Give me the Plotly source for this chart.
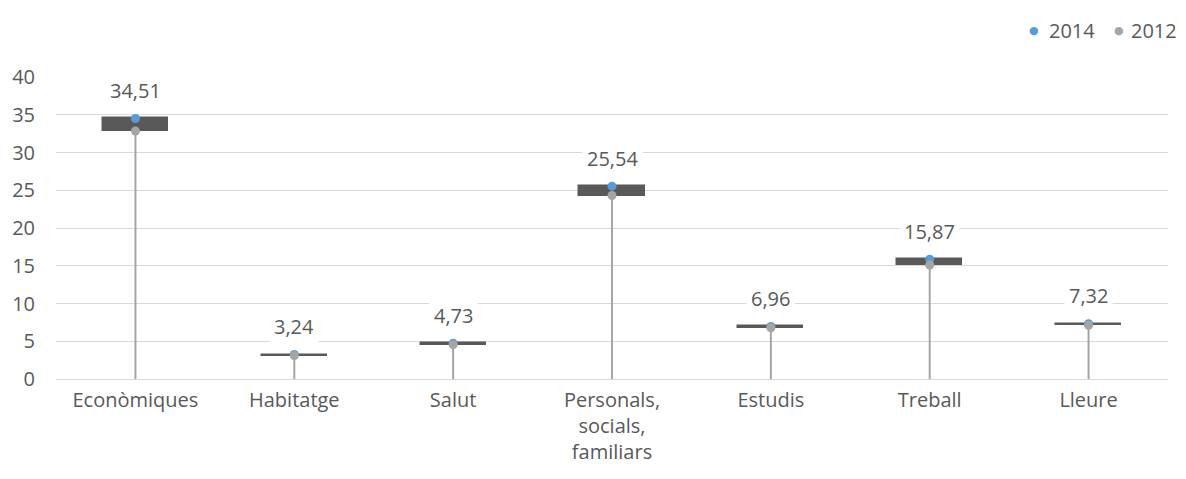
import plotly.graph_objects as go

categories = ["Econòmiques", "Habitatge", "Salut", "Personals,<br>socials,<br>familiars", "Estudis", "Treball", "Lleure"]
values_2014 = [34.51, 3.24, 4.73, 25.54, 6.96, 15.87, 7.32]
values_2012 = [32.85, 3.10, 4.55, 24.30, 6.78, 15.10, 7.12]
labels_2014 = ["34,51", "3,24", "4,73", "25,54", "6,96", "15,87", "7,32"]
series_names = ["2014", "2012"]
series_colors = ["#5B9BD5", "#A5A5A5"]
y_ticks = [0, 5, 10, 15, 20, 25, 30, 35, 40]

TXT = "#595959"
FONT = "Open Sans"
FS = 20

fig = go.Figure()

# drop lines
for c, v in zip(categories, values_2012):
    fig.add_trace(go.Scatter(x=[c, c], y=[0, v], mode="lines",
                             line=dict(color="#A5A5A5", width=2),
                             showlegend=False, hoverinfo="skip"))

# up/down bars
lo = [min(a, b) for a, b in zip(values_2014, values_2012)]
hi = [max(a, b) for a, b in zip(values_2014, values_2012)]
fig.add_trace(go.Bar(x=categories, y=[h - l for h, l in zip(hi, lo)], base=lo,
                     width=0.41, marker=dict(color="#595959", line=dict(color="#595959", width=1.5)),
                     showlegend=False, hoverinfo="skip"))

fig.add_trace(go.Scatter(x=categories, y=values_2014, mode="markers", name=series_names[0],
                         marker=dict(color=series_colors[0], size=9), showlegend=False))
fig.add_trace(go.Scatter(x=categories, y=values_2012, mode="markers", name=series_names[1],
                         marker=dict(color=series_colors[1], size=9), showlegend=False))

for c, v, t in zip(categories, values_2014, labels_2014):
    fig.add_annotation(x=c, y=v, text=t, showarrow=False, yshift=28,
                       bgcolor="white", borderpad=4,
                       font=dict(family=FONT, size=FS, color=TXT))

# legend (top right) drawn as text
legend_y = 1.1556
for name, col, xd, xt in zip(series_names, series_colors, [0.8795, 0.9559], [0.8912, 0.9649]):
    fig.add_annotation(x=xd, y=legend_y, xref="paper", yref="paper", text="●",
                       showarrow=False, xanchor="center", yanchor="middle",
                       font=dict(family="DejaVu Sans", size=11, color=col))
    fig.add_annotation(x=xt, y=legend_y, xref="paper", yref="paper", text=name,
                       showarrow=False, xanchor="left", yanchor="middle",
                       font=dict(family=FONT, size=FS, color=TXT))

fig.update_layout(
    width=1178, height=463,
    paper_bgcolor="white", plot_bgcolor="white",
    margin=dict(l=48, r=18, t=69, b=92, autoexpand=False),
    font=dict(family=FONT, size=FS, color=TXT),
    bargap=0,
    showlegend=False,
    xaxis=dict(showgrid=False, showline=False, ticks="", automargin=False,
               ticklabelstandoff=7, tickfont=dict(size=FS, color=TXT)),
    yaxis=dict(range=[0, 40], tickvals=y_ticks, showgrid=True, gridcolor="#D9D9D9", gridwidth=1.3,
               zeroline=True, zerolinecolor="#D9D9D9", zerolinewidth=1.3, showline=False,
               automargin=False, ticks="", ticklabelstandoff=20,
               tickfont=dict(size=FS, color=TXT)),
)

fig.write_html("out.html")
